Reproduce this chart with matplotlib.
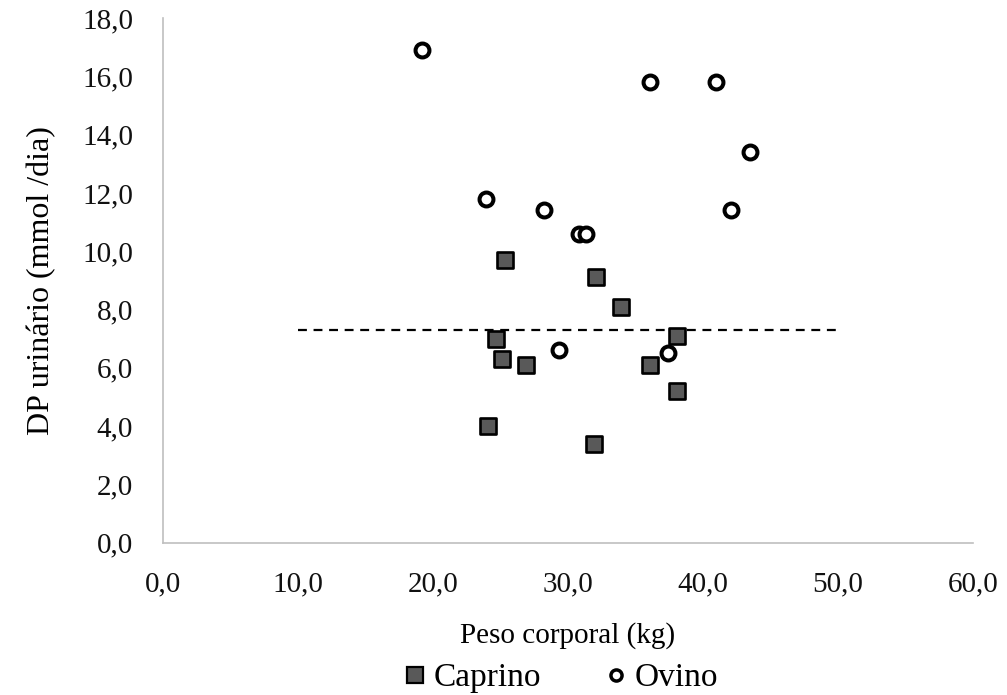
import numpy as np
import matplotlib
matplotlib.use('Agg')
import matplotlib.pyplot as plt
from matplotlib.ticker import FuncFormatter
from matplotlib.lines import Line2D

plt.rcParams['font.family'] = ['Liberation Serif', 'DejaVu Serif']

# Caprino (goats)
caprino_x = [25.3, 32.1, 33.9, 24.7, 38.1, 25.1, 26.9, 36.1, 38.1, 24.1, 31.9]
caprino_y = [9.7, 9.1, 8.1, 7.0, 7.1, 6.3, 6.1, 6.1, 5.2, 4.0, 3.4]

# Ovino (sheep)
ovino_x = [19.2, 36.1, 41.0, 43.5, 23.9, 28.2, 30.8, 31.3, 42.1, 29.3, 37.4]
ovino_y = [16.9, 15.8, 15.8, 13.4, 11.8, 11.4, 10.6, 10.6, 11.4, 6.6, 6.5]

# mean line
mean_x = [10, 50]
mean_y = [7.3, 7.3]

fig = plt.figure(figsize=(10.07, 6.95), dpi=100)
ax = fig.add_axes([0.1619, 0.2191, 0.8043, 0.755])

ax.plot(mean_x, mean_y, color='black', linestyle=(0, (4, 3)), linewidth=1.6, zorder=1)
ax.scatter(caprino_x, caprino_y, s=125, marker='s', facecolor='#595959',
           edgecolor='black', linewidths=1.9, zorder=2)
ax.scatter(ovino_x, ovino_y, s=100, marker='o', facecolor='white',
           edgecolor='black', linewidths=2.9, zorder=3)

ax.set_xlim(0, 60)
ax.set_ylim(0, 18)
ax.set_xticks(np.arange(0, 61, 10))
ax.set_yticks(np.arange(0, 19, 2))
fmt = FuncFormatter(lambda v, p: f'{v:.1f}'.replace('.', ','))
ax.xaxis.set_major_formatter(fmt)
ax.yaxis.set_major_formatter(fmt)
ax.tick_params(length=0, labelsize=21, colors='#111111')
ax.tick_params(axis='y', pad=21.5)
ax.tick_params(axis='x', pad=20.5)

for s in ['top', 'right']:
    ax.spines[s].set_visible(False)
for s in ['left', 'bottom']:
    ax.spines[s].set_color('#bfbfbf')
    ax.spines[s].set_linewidth(1.2)

ax.set_xlabel('Peso corporal (kg)', fontsize=21, labelpad=18)
ax.set_ylabel('DP urinário (mmol /dia)', fontsize=23, labelpad=19)

handles = [
    Line2D([], [], linestyle='none', marker='s', markersize=11.5,
           markerfacecolor='#595959', markeredgecolor='black', markeredgewidth=1.6),
    Line2D([], [], linestyle='none', marker='o', markersize=8,
           markerfacecolor='white', markeredgecolor='black', markeredgewidth=2.5),
]
leg = ax.legend(handles, ['Caprino', 'Ovino'], loc='center',
                bbox_to_anchor=(0.49, -0.258), ncol=2, frameon=False,
                fontsize=24, handlelength=0.8, handletextpad=0.15,
                columnspacing=1.85, borderpad=0.0)

plt.savefig('out.png', dpi=100)
